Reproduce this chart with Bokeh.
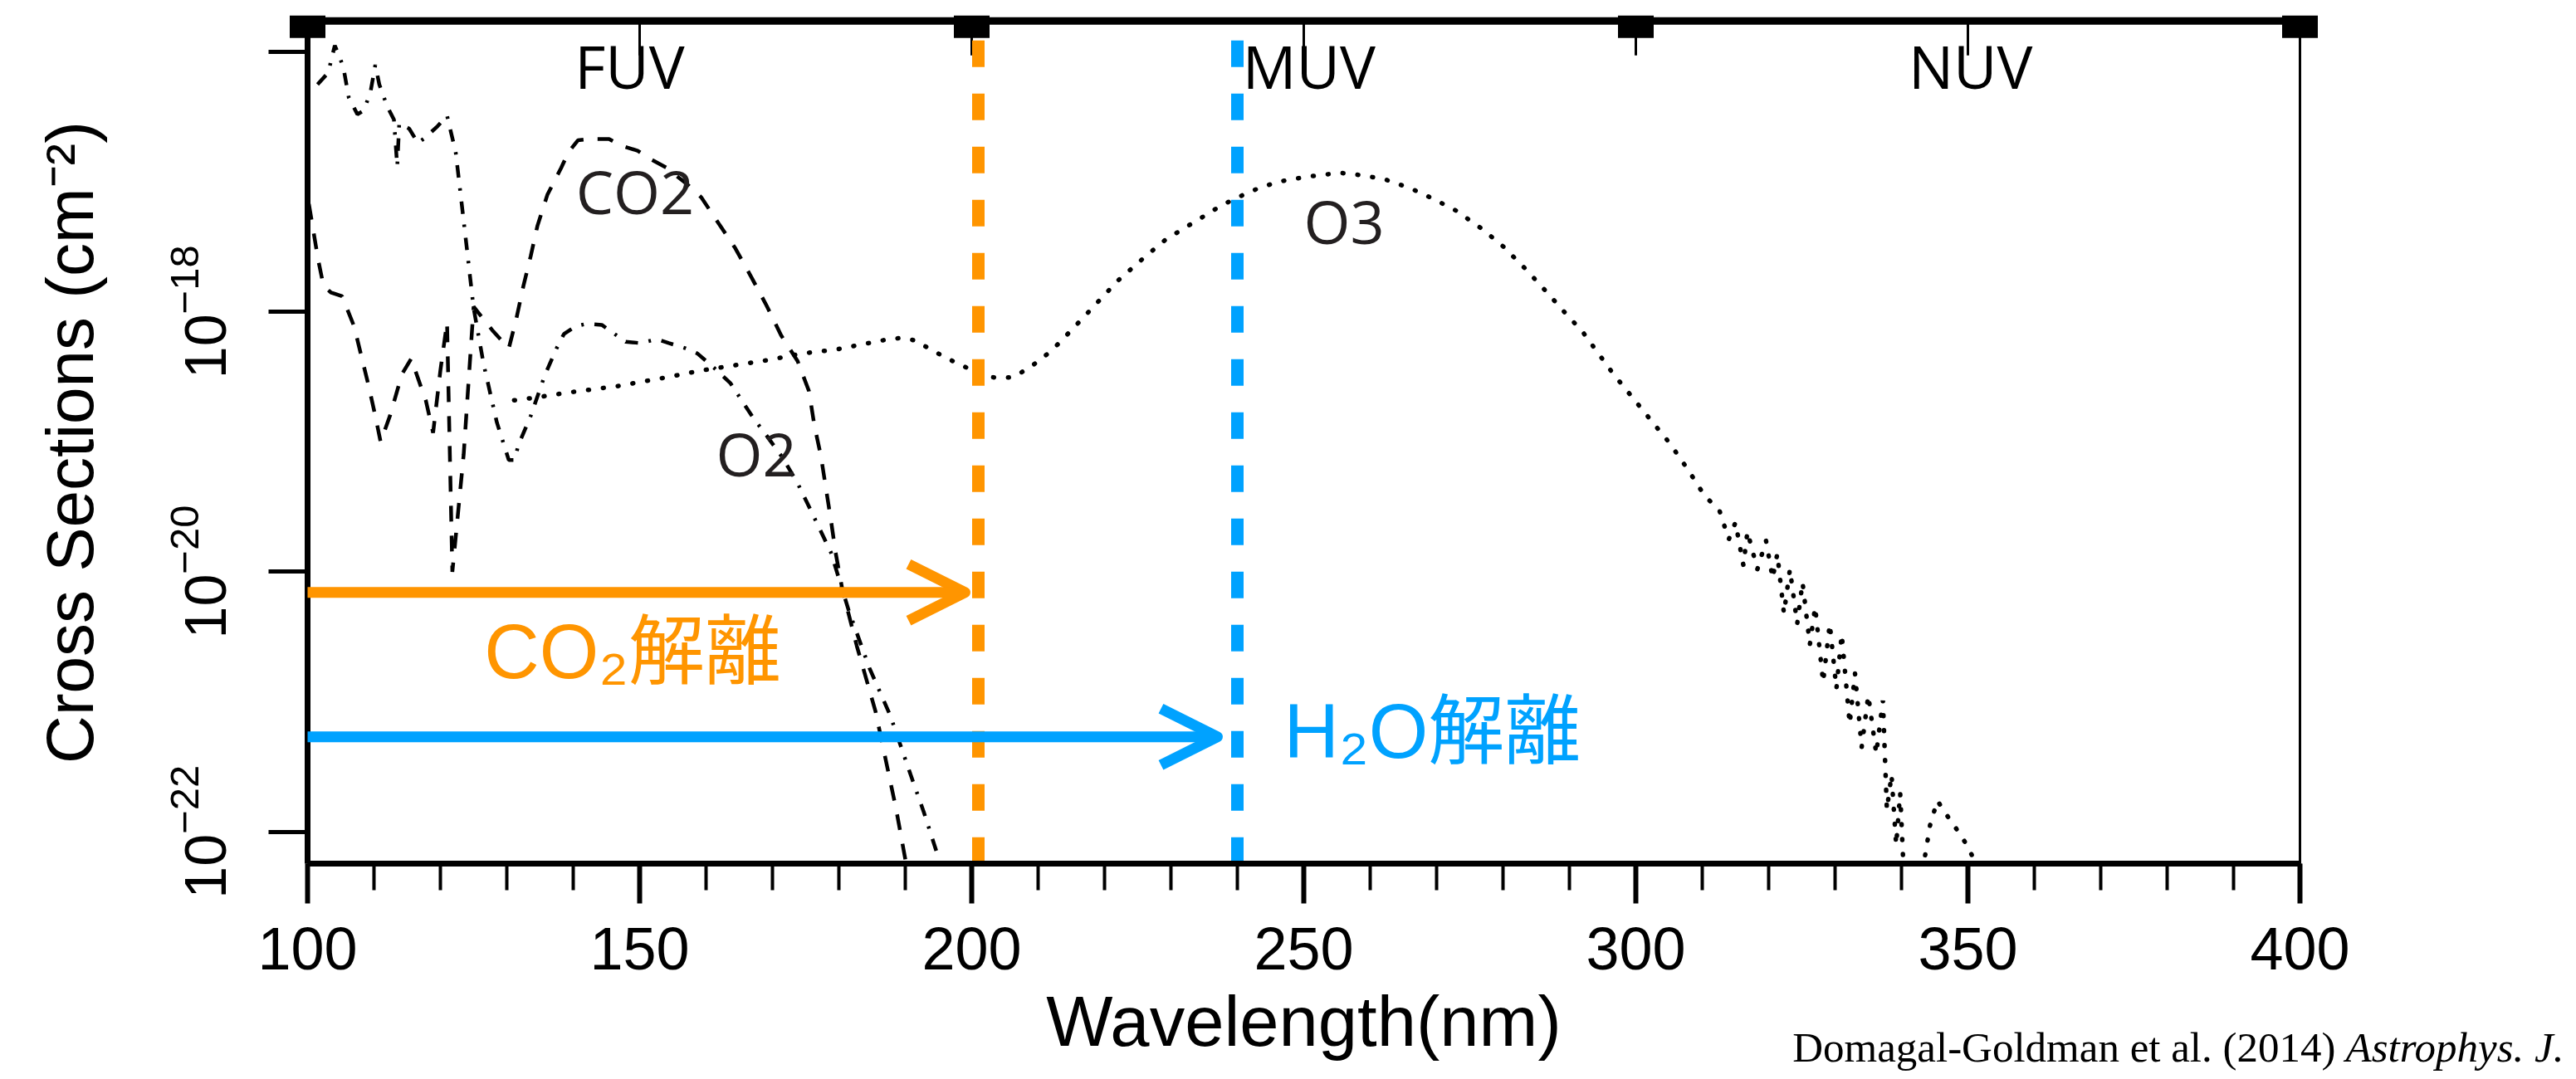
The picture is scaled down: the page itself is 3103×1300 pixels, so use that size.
from bokeh.plotting import figure
from bokeh.models import (Range1d, FixedTicker, SingleIntervalTicker, Arrow, OpenHead)
from bokeh.core.properties import value
from bokeh.embed import file_html
from bokeh.resources import INLINE

# ---------------- data (wavelength nm, log10 cross section cm^-2) ----------------
co2_nm = [100.2, 101.6, 102.4, 103.5, 105.2, 107.0, 108.1, 109.2, 110.2, 111.0, 112.4, 114.2,
          115.6, 117.1, 117.8, 118.9, 120.0, 121.0, 121.8, 123.5, 125.0, 127.8, 130.3, 131.4,
          132.5, 133.6, 134.6, 136.1, 138.2, 139.3, 140.7, 142.5, 145.4, 147.2, 149.7, 151.5,
          154.0, 157.2, 159.3, 161.9, 164.4, 166.9, 169.1, 171.3, 173.8, 175.5, 176.3, 177.3,
          178.0, 178.8, 179.5, 180.5, 182.7, 185.5, 188.6, 190.0, 190.5]
co2_log = [-17.17, -17.60, -17.80, -17.85, -17.88, -18.11, -18.34, -18.57, -18.80, -19.00, -18.80, -18.48,
           -18.36, -18.58, -18.68, -18.93, -18.45, -18.08, -20.00, -19.10, -17.96, -18.14, -18.28, -18.06,
           -17.80, -17.57, -17.34, -17.10, -16.89, -16.77, -16.68, -16.67, -16.67, -16.72, -16.76, -16.82,
           -16.89, -17.02, -17.12, -17.32, -17.51, -17.74, -17.95, -18.18, -18.38, -18.61, -18.87, -19.11,
           -19.34, -19.60, -19.85, -20.13, -20.57, -21.07, -21.82, -22.21, -22.40]

o2_nm = [101.5, 103.1, 104.1, 104.9, 105.4, 106.2, 107.5, 108.5, 109.5, 110.2, 110.8, 112.0,
         113.0, 113.5, 113.8, 115.3, 116.6, 117.7, 119.6, 121.0, 122.3, 123.1, 124.0, 125.0,
         126.5, 128.5, 130.3, 131.2, 131.7, 133.6, 135.7, 137.5, 138.6, 140.4, 142.1, 144.3,
         147.9, 150.1, 152.6, 154.4, 156.9, 158.7, 161.2, 163.7, 165.1, 167.3, 169.1, 171.5,
         173.8, 175.9, 178.8, 181.5, 184.6, 187.7, 190.8, 192.8, 195.0, 195.5]
o2_log = [-16.25, -16.16, -15.95, -16.05, -16.12, -16.35, -16.48, -16.45, -16.30, -16.10, -16.25, -16.42,
          -16.52, -16.88, -16.55, -16.59, -16.70, -16.66, -16.57, -16.49, -16.77, -17.12, -17.52, -17.97,
          -18.40, -18.85, -19.14, -19.14, -19.03, -18.80, -18.49, -18.28, -18.17, -18.11, -18.09, -18.10,
          -18.23, -18.24, -18.21, -18.24, -18.28, -18.32, -18.43, -18.55, -18.66, -18.83, -18.95, -19.12,
          -19.32, -19.54, -19.85, -20.30, -20.74, -21.10, -21.56, -21.85, -22.20, -22.40]

o3_nm = [131.1, 134.2, 139.3, 146.8, 154.4, 159.4, 164.4, 169.4, 174.5, 179.5, 184.5, 187.5,
         189.5, 191.5, 193.5, 196.4, 199.7, 202.6, 204.5, 206.4, 209.2, 212.0, 215.4, 218.7,
         222.0, 226.0, 229.3, 233.8, 237.6, 242.1, 246.0, 250.5, 255.5, 258.9, 262.2, 266.1,
         269.5, 272.9, 276.8, 280.1, 283.4, 286.8, 290.1, 291.8, 296.5, 301.9, 305.1, 307.8,
         310.3, 312.6, 314.0, 315.0, 316.2, 316.8, 318.3, 319.6, 320.6, 321.3, 322.3, 323.2,
         324.3, 325.1, 326.2, 327.0, 328.2, 329.2, 330.2, 331.0, 332.2, 333.0, 334.0, 335.0,
         336.2, 337.2, 337.8, 338.5, 339.2, 339.8, 340.5, 342.0, 343.5, 344.3, 345.4, 346.8,
         348.3, 349.7, 350.8, 352.0]
o3_log = [-18.68, -18.66, -18.62, -18.57, -18.50, -18.45, -18.41, -18.37, -18.32, -18.29, -18.24, -18.21,
          -18.20, -18.22, -18.28, -18.36, -18.44, -18.50, -18.51, -18.50, -18.41, -18.30, -18.12, -17.94,
          -17.76, -17.58, -17.44, -17.30, -17.18, -17.07, -17.00, -16.96, -16.93, -16.95, -16.98, -17.05,
          -17.13, -17.22, -17.36, -17.50, -17.67, -17.86, -18.05, -18.14, -18.47, -18.81, -19.01, -19.21,
          -19.41, -19.53, -19.75, -19.62, -19.95, -19.69, -19.98, -19.76, -20.05, -19.86, -20.32, -19.98,
          -20.40, -20.08, -20.56, -20.27, -20.85, -20.40, -20.90, -20.48, -21.17, -20.78, -21.35, -20.95,
          -21.40, -20.99, -21.83, -21.56, -22.10, -21.70, -22.50, -22.80, -22.20, -21.95, -21.76, -21.87,
          -21.98, -22.09, -22.20, -22.40]

curve_names = ["CO2", "O2", "O3"]
curve_label_nm = [140.4, 161.5, 250.0]
curve_label_log = [-17.067, -19.085, -17.297]

band_names = ["FUV", "MUV", "NUV"]
band_center_nm = [148.5, 250.8, 350.4]
band_label_log = -16.103
band_edges_nm = [100, 200, 300, 400]
top_ticks_nm = [150, 200, 250, 300, 350, 400]

co2_limit_nm = 201.0
h2o_limit_nm = 240.0
co2_arrow_end_nm = 199.0
h2o_arrow_end_nm = 237.0
co2_arrow_log = -20.158
h2o_arrow_log = -21.269
co2_text = "CO₂解離"
h2o_text = "H₂O解離"
co2_text_pos = (126.6, -20.611)
h2o_text_pos = (247.0, -21.224)

citation_main = "Domagal-Goldman et al. (2014)"
citation_journal = "Astrophys. J."
citation_main_pos = (405.375, -23.66)
citation_journal_pos = (406.875, -23.66)

y_ticks = [1e-22, 1e-20, 1e-18, 1e-16]
X_VIEW_MIN, X_MIN, X_AXIS_END, X_VIEW_MAX = 53.75, 100, 400, 441.375
Y_MIN, Y_BOTTOM, Y_TOP = -23.892, -22.246, -15.693
TOP_LINE = -15.761
SQUARE_Y = -15.806
TOP_TICK_END = -16.026

ORANGE = "#FF9500"
BLUE = "#00A2FF"
INK = "#231f20"

def pw(vals):
    return [10 ** v for v in vals]

p = figure(frame_width=3101, frame_height=1284,
           x_range=Range1d(X_VIEW_MIN, X_VIEW_MAX), y_range=Range1d(10 ** Y_MIN, 10 ** Y_TOP),
           y_axis_type="log", output_backend="svg", toolbar_location=None,
           min_border_left=0, min_border_right=0, min_border_top=14, min_border_bottom=0)
p.grid.visible = False
p.outline_line_color = None
p.background_fill_color = "white"
p.border_fill_color = "white"

xa = p.xaxis[0]
xa.fixed_location = 10 ** Y_BOTTOM
xa.bounds = (X_MIN, X_AXIS_END)
xa.ticker = SingleIntervalTicker(interval=50, num_minor_ticks=5)
xa.axis_line_width = 7
xa.axis_line_color = "black"
xa.major_tick_line_width = 6
xa.major_tick_out = 48
xa.major_tick_in = 0
xa.minor_tick_line_width = 4
xa.minor_tick_out = 32
xa.minor_tick_in = 0
xa.major_label_text_font = "Liberation Sans"
xa.major_label_text_font_size = "72px"
xa.major_label_text_color = "black"
xa.major_label_standoff = 29
xa.axis_label = "Wavelength(nm)"
xa.axis_label_text_font = "Liberation Sans"
xa.axis_label_text_font_size = "85px"
xa.axis_label_text_font_style = "normal"
xa.axis_label_text_color = "black"
xa.axis_label_standoff = 12

ya = p.yaxis[0]
ya.fixed_location = X_MIN
ya.bounds = (10 ** Y_BOTTOM, 10 ** TOP_LINE)
ya.ticker = FixedTicker(ticks=y_ticks)
ya.axis_line_width = 7
ya.axis_line_color = "black"
ya.major_tick_line_width = 5
ya.major_tick_out = 47
ya.major_tick_in = 0
ya.minor_tick_line_color = None
ya.major_label_orientation = "vertical"
ya.major_label_text_font = "Liberation Sans"
ya.major_label_text_font_size = "70px"
ya.major_label_text_color = "black"
ya.major_label_standoff = 52
ya.major_label_overrides = {1e-16: ""}
ya.axis_label = "Cross Sections (cm⁻²)"
ya.axis_label_text_font = "Liberation Sans"
ya.axis_label_text_font_size = "80px"
ya.axis_label_text_font_style = "normal"
ya.axis_label_text_color = "black"
ya.axis_label_standoff = 70

# curves
p.line(co2_nm, pw(co2_log), line_color="black", line_width=4.5, line_dash="19 17")
p.line(o2_nm, pw(o2_log), line_color="black", line_width=4.5, line_dash="15 13 3 13")
p.line(o3_nm, pw(o3_log), line_color="black", line_width=5.5, line_dash="1 17", line_cap="round")

# white mask below the wavelength axis (curves end at the axis)
p.quad(left=[X_MIN], right=[X_VIEW_MAX], bottom=[10 ** Y_MIN], top=[10 ** Y_BOTTOM],
       fill_color="white", line_color=None)

# frame decorations: top line, right border, band squares and hanging ticks
p.segment(x0=[band_edges_nm[0]], x1=[band_edges_nm[-1]], y0=[10 ** TOP_LINE], y1=[10 ** TOP_LINE],
          line_width=9, line_color="black")
p.segment(x0=[band_edges_nm[-1]], x1=[band_edges_nm[-1]], y0=[10 ** Y_BOTTOM], y1=[10 ** TOP_LINE],
          line_width=3, line_color="black")
p.segment(x0=top_ticks_nm, x1=top_ticks_nm, y0=[10 ** TOP_LINE] * len(top_ticks_nm),
          y1=[10 ** TOP_TICK_END] * len(top_ticks_nm), line_width=3, line_color="black")
p.rect(x=band_edges_nm, y=[10 ** SQUARE_Y] * len(band_edges_nm), width=43, height=27,
       width_units="screen", height_units="screen", fill_color="black", line_color=None)

p.text(x=curve_label_nm, y=pw(curve_label_log), text=curve_names, text_font=value("Open Sans"),
       text_font_size=value("72px"), text_color=INK, text_baseline="alphabetic", text_align="left")
p.text(x=band_center_nm, y=[10 ** band_label_log] * 3, text=band_names, text_font=value("Open Sans"),
       text_font_size=value("72px"), text_color="black", text_baseline="alphabetic", text_align="center")

# dissociation limits
p.segment(x0=[co2_limit_nm], x1=[co2_limit_nm], y0=[10 ** Y_BOTTOM], y1=[10 ** TOP_LINE],
          line_color=ORANGE, line_width=15, line_dash="32 32")
p.segment(x0=[h2o_limit_nm], x1=[h2o_limit_nm], y0=[10 ** Y_BOTTOM], y1=[10 ** TOP_LINE],
          line_color=BLUE, line_width=15, line_dash="32 32")

p.add_layout(Arrow(end=OpenHead(size=68, line_width=13, line_color=ORANGE, line_join="round"),
                   x_start=X_MIN, y_start=10 ** co2_arrow_log, x_end=co2_arrow_end_nm, y_end=10 ** co2_arrow_log,
                   line_width=13, line_color=ORANGE))
p.add_layout(Arrow(end=OpenHead(size=68, line_width=13, line_color=BLUE, line_join="round"),
                   x_start=X_MIN, y_start=10 ** h2o_arrow_log, x_end=h2o_arrow_end_nm, y_end=10 ** h2o_arrow_log,
                   line_width=13, line_color=BLUE))

cjk_font = value("'Liberation Sans', 'Noto Sans CJK JP'")
p.text(x=[co2_text_pos[0]], y=[10 ** co2_text_pos[1]], text=[co2_text], text_font=cjk_font,
       text_font_size=value("92px"), text_color=ORANGE, text_baseline="alphabetic", text_align="left")
p.text(x=[h2o_text_pos[0]], y=[10 ** h2o_text_pos[1]], text=[h2o_text], text_font=cjk_font,
       text_font_size=value("92px"), text_color=BLUE, text_baseline="alphabetic", text_align="left")

# citation
p.text(x=[citation_main_pos[0]], y=[10 ** citation_main_pos[1]], text=[citation_main],
       text_font=value("Liberation Serif"), text_font_size=value("51px"), text_color="black",
       text_baseline="alphabetic", text_align="right")
p.text(x=[citation_journal_pos[0]], y=[10 ** citation_journal_pos[1]], text=[citation_journal],
       text_font=value("Liberation Serif"), text_font_size=value("51px"), text_font_style="italic",
       text_color="black", text_baseline="alphabetic", text_align="left")

open("out.html", "w").write(file_html(p, INLINE))
